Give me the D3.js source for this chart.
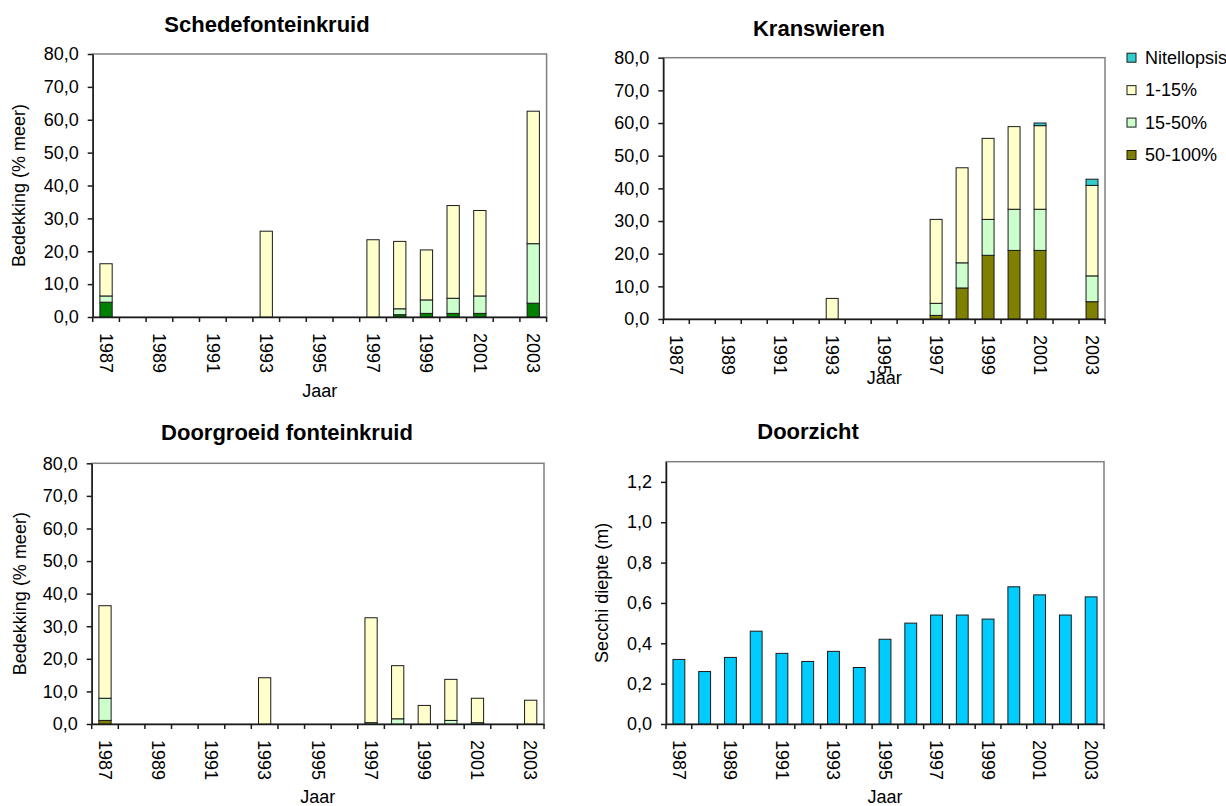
<!DOCTYPE html>
<html>
<head>
<meta charset="utf-8">
<script src="https://cdn.jsdelivr.net/npm/d3@7"></script>
<style>
  body { margin: 0; background: #fff; }
  svg { display: block; font-family: "Liberation Sans", Arial, sans-serif; }
</style>
</head>
<body>
<div id="chart"></div>
<script>
// categories
const years = [1987, 1988, 1989, 1990, 1991, 1992, 1993, 1994, 1995, 1996, 1997, 1998, 1999, 2000, 2001, 2002, 2003];

// Schedefonteinkruid (% meer)
const schede50_100 = [4.5, 0, 0, 0, 0, 0, 0, 0, 0, 0, 0, 0.7, 1.1, 1.1, 1.1, 0, 4.2];
const schede15_50 = [1.9, 0, 0, 0, 0, 0, 0, 0, 0, 0, 0, 1.8, 4.1, 4.6, 5.3, 0, 18.1];
const schede1_15 = [9.8, 0, 0, 0, 0, 0, 26.1, 0, 0, 0, 23.5, 20.5, 15.2, 28.2, 26.0, 0, 40.3];

// Kranswieren (% meer)
const kw50_100 = [0, 0, 0, 0, 0, 0, 0, 0, 0, 0, 1.1, 9.5, 19.5, 21.0, 21.0, 0, 5.3];
const kw15_50 = [0, 0, 0, 0, 0, 0, 0, 0, 0, 0, 3.7, 7.7, 11.0, 12.6, 12.6, 0, 7.9];
const kw1_15 = [0, 0, 0, 0, 0, 0, 6.3, 0, 0, 0, 25.7, 29.1, 24.8, 25.3, 25.6, 0, 27.7];
const kwNitellopsis = [0, 0, 0, 0, 0, 0, 0, 0, 0, 0, 0, 0, 0, 0, 0.8, 0, 1.9];

// Doorgroeid fonteinkruid (% meer)
const dg50_100 = [1.1, 0, 0, 0, 0, 0, 0, 0, 0, 0, 0, 0, 0, 0, 0, 0, 0];
const dg15_50 = [6.8, 0, 0, 0, 0, 0, 0, 0, 0, 0, 0.4, 1.6, 0, 1.1, 0.4, 0, 0];
const dg1_15 = [28.4, 0, 0, 0, 0, 0, 14.2, 0, 0, 0, 32.2, 16.3, 5.7, 12.6, 7.5, 0, 7.3];

// Doorzicht, Secchi diepte (m)
const secchi = [0.32, 0.26, 0.33, 0.46, 0.35, 0.31, 0.36, 0.28, 0.42, 0.50, 0.54, 0.54, 0.52, 0.68, 0.64, 0.54, 0.63];

// tick labels
const coverTicks = [0, 10, 20, 30, 40, 50, 60, 70, 80];
const secchiTicks = [0, 0.2, 0.4, 0.6, 0.8, 1.0, 1.2];
const legendLabels = ['Nitellopsis', '1-15%', '15-50%', '50-100%'];

const fontSize = 18;
const axisColor = '#1a1a1a';
const frameColor = '#808080';
const barStroke = '#1a1a1a';

const svg = d3.select('#chart')
    .append('svg')
    .attr('width', 1226)
    .attr('height', 806);

const comma = d => d.toFixed(1).replace('.', ',');

function panel(p) {
    const x = d3.scaleBand()
        .domain(years)
        .range([p.left, p.right])
        .padding(0);

    const y = d3.scaleLinear()
        .domain(p.domain)
        .range([p.bottom, p.top]);

    const barW = x.bandwidth() * 0.46;
    const barX = d => x(d) + (x.bandwidth() - barW) / 2;

    // plot area frame
    svg.append('rect')
        .attr('x', p.left)
        .attr('y', p.top)
        .attr('width', p.right - p.left)
        .attr('height', p.bottom - p.top)
        .attr('fill', 'none')
        .attr('stroke', frameColor)
        .attr('stroke-width', 1.5);

    // bars (stacked)
    const table = years.map((yr, i) => {
        const row = { year: yr };
        p.series.forEach(s => row[s.key] = s.values[i]);
        return row;
    });
    const stacked = d3.stack().keys(p.series.map(s => s.key))(table);

    const layers = svg.append('g')
        .selectAll('g')
        .data(stacked)
        .join('g')
        .attr('fill', (d, i) => p.series[i].color);

    layers.selectAll('rect')
        .data(d => d.filter(v => v[1] - v[0] > 0))
        .join('rect')
        .attr('x', d => barX(d.data.year))
        .attr('y', d => y(d[1]))
        .attr('width', barW)
        .attr('height', d => y(d[0]) - y(d[1]))
        .attr('stroke', barStroke)
        .attr('stroke-width', 1);

    // y axis
    const yAxis = d3.axisLeft(y)
        .tickValues(p.ticks)
        .tickSize(5)
        .tickSizeOuter(0)
        .tickPadding(9)
        .tickFormat(comma);

    const yAxisGroup = svg.append('g')
        .attr('transform', `translate(${p.left},0)`)
        .call(yAxis);
    yAxisGroup.selectAll('text')
        .style('font-size', fontSize + 'px')
        .attr('fill', '#000');
    yAxisGroup.selectAll('line, path')
        .attr('stroke', axisColor)
        .attr('stroke-width', 1.5);

    // x axis: labels at band centres for every other year
    const xAxis = d3.axisBottom(x)
        .tickSize(0)
        .tickSizeOuter(0)
        .tickFormat(d => (d - years[0]) % 2 === 0 ? d : '');

    const xAxisGroup = svg.append('g')
        .attr('transform', `translate(0,${p.bottom})`)
        .call(xAxis);
    xAxisGroup.select('.domain')
        .attr('stroke', axisColor)
        .attr('stroke-width', 1.5);
    xAxisGroup.selectAll('text')
        .style('font-size', fontSize + 'px')
        .style('text-anchor', 'start')
        .attr('fill', '#000')
        .attr('transform', 'rotate(90)')
        .attr('x', 16)
        .attr('y', 0)
        .attr('dy', '0.35em');

    // tick marks at category boundaries
    xAxisGroup.selectAll('line.bound')
        .data(years.map(d => x(d)).concat([x.range()[1]]))
        .join('line')
        .attr('class', 'bound')
        .attr('x1', d => d)
        .attr('x2', d => d)
        .attr('y1', 0)
        .attr('y2', 5)
        .attr('stroke', axisColor)
        .attr('stroke-width', 1.5);

    // titles
    svg.append('text')
        .attr('x', p.titleX)
        .attr('y', p.titleY)
        .attr('text-anchor', 'middle')
        .style('font-size', '22px')
        .style('font-weight', 'bold')
        .text(p.title);

    svg.append('text')
        .attr('x', (p.left + p.right) / 2)
        .attr('y', p.xLabelY)
        .attr('text-anchor', 'middle')
        .style('font-size', fontSize + 'px')
        .text('Jaar');

    if (p.yLabel) {
        svg.append('text')
            .attr('transform', `translate(${p.yLabelX},${(p.top + p.bottom) / 2}) rotate(-90)`)
            .attr('text-anchor', 'middle')
            .style('font-size', fontSize + 'px')
            .text(p.yLabel);
    }
}

const green = '#008000';
const olive = '#808000';
const lightGreen = '#CCFFCC';
const lightYellow = '#FFFFCC';
const teal = '#33CCCC';

panel({
    left: 92.7, right: 546.6, top: 54, bottom: 317,
    domain: [0, 80], ticks: coverTicks,
    title: 'Schedefonteinkruid', titleX: 267, titleY: 32,
    xLabelY: 397, yLabel: 'Bedekking (% meer)', yLabelX: 25,
    series: [
        { key: '50-100%', values: schede50_100, color: green },
        { key: '15-50%', values: schede15_50, color: lightGreen },
        { key: '1-15%', values: schede1_15, color: lightYellow }
    ]
});

panel({
    left: 663.3, right: 1105, top: 57.7, bottom: 319,
    domain: [0, 80], ticks: coverTicks,
    title: 'Kranswieren', titleX: 819, titleY: 36,
    xLabelY: 384,
    series: [
        { key: '50-100%', values: kw50_100, color: olive },
        { key: '15-50%', values: kw15_50, color: lightGreen },
        { key: '1-15%', values: kw1_15, color: lightYellow },
        { key: 'Nitellopsis', values: kwNitellopsis, color: teal }
    ]
});

panel({
    left: 91.7, right: 544, top: 463.3, bottom: 724,
    domain: [0, 80], ticks: coverTicks,
    title: 'Doorgroeid fonteinkruid', titleX: 287, titleY: 440,
    xLabelY: 803, yLabel: 'Bedekking (% meer)', yLabelX: 26,
    series: [
        { key: '50-100%', values: dg50_100, color: olive },
        { key: '15-50%', values: dg15_50, color: lightGreen },
        { key: '1-15%', values: dg1_15, color: lightYellow }
    ]
});

panel({
    left: 666, right: 1104, top: 461.7, bottom: 724,
    domain: [0, 1.3], ticks: secchiTicks,
    title: 'Doorzicht', titleX: 808, titleY: 439,
    xLabelY: 803, yLabel: 'Secchi diepte (m)', yLabelX: 608,
    series: [
        { key: 'secchi', values: secchi, color: '#00CCFF' }
    ]
});

// legend for Kranswieren
const legendColors = [teal, lightYellow, lightGreen, olive];
const legendY = d3.scalePoint()
    .domain(legendLabels)
    .range([57.7, 155]);

const legend = svg.append('g')
    .selectAll('g')
    .data(legendLabels)
    .join('g')
    .attr('transform', d => `translate(1127,${legendY(d)})`);

legend.append('rect')
    .attr('x', 0)
    .attr('y', -4.5)
    .attr('width', 9)
    .attr('height', 9)
    .attr('fill', (d, i) => legendColors[i])
    .attr('stroke', barStroke)
    .attr('stroke-width', 1);

legend.append('text')
    .attr('x', 18)
    .attr('dy', '0.35em')
    .style('font-size', fontSize + 'px')
    .text(d => d);
</script>
</body>
</html>
